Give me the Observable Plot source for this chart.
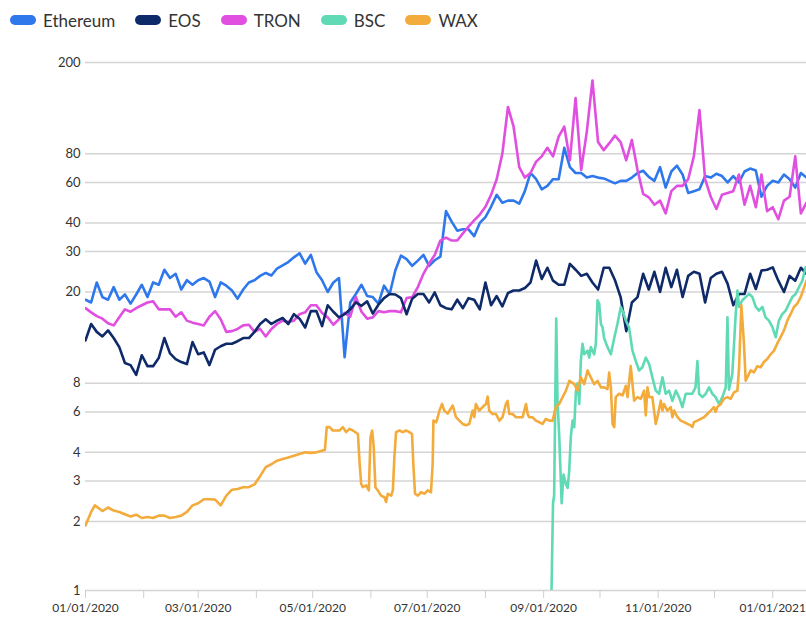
<!DOCTYPE html>
<html><head><meta charset="utf-8">
<script src="https://cdn.jsdelivr.net/npm/d3@7"></script>
<script src="https://cdn.jsdelivr.net/npm/@observablehq/plot@0.6"></script>
<style>
body{margin:0;background:#fff;font-family:Lato,"Open Sans",sans-serif;}
#legend{display:flex;align-items:center;height:40px;padding-left:10px;font-size:17px;color:#333;}
.item{display:flex;align-items:center;margin-right:20px;}
.sw{width:26px;height:10px;border-radius:5px;margin-right:7px;}
</style></head><body>
<div id="legend"></div>
<div id="chart"></div>
<script>
const seriesNames = ["Ethereum", "EOS", "TRON", "BSC", "WAX"];
const seriesColors = ["#2f78ec", "#0f2a68", "#e04fe0", "#5fdab5", "#f3ab3c"];
const yTicks = [1, 2, 3, 4, 6, 8, 20, 30, 40, 60, 80, 200];
const startDate = "2020-01-01";
const endDate = "2021-01-19";
const stepDays = 3; // Ethereum, EOS, TRON sampled every 3 days from startDate

const ethereum = [18.5,18,22,19,18.5,21,18.5,19.5,17.8,19.5,21.5,19,22,21.5,25,23,24,20.5,22.5,21.5,22.5,23,22.2,19,22,21.3,20.3,18.7,20.5,22,22.5,23.5,24.2,23.6,25.3,26.1,27,28.3,29.5,26.6,29,24.4,22.5,20,22,23,10.4,18,19.6,21.5,19.2,19,17.8,21.3,19.6,24.8,28.8,27.8,26,27.4,29,26,27.5,28.5,45,40.5,37,37.5,37.5,35,40,42.4,47,53,49,50,50,48.5,55,66,62,56,58,62,62,85,70,66,66,63,64,63,62.5,61,59.5,61,61,63,66,67.5,63.5,61,70,57,67,71,65,54,55,56,64,63,65.5,64,60,64,60,67,69,67.6,52,58,61,60,65,62,57,66,63];

const eos = [12.3,14.5,13.4,12.8,13.6,12.6,11.5,9.8,9.6,8.7,10.6,9.5,9.5,10.3,12.6,10.8,10.2,9.9,9.7,12.1,10.7,10.9,9.6,11.2,11.6,11.9,11.9,12.2,12.6,12.6,13.4,14.5,15.2,14.5,15,15.4,14.5,16,15.3,14,16.5,16.5,14.2,17.5,16.4,15.5,16,16.8,18,17.4,18.2,16.1,17.6,18.8,19.6,19.5,18.8,16,18.7,19.6,19.6,18,19.9,17.5,17,16.8,18.5,17,18.8,18.5,16.8,22,17.5,19.2,17.3,19.8,20.3,20.3,20.8,22,27.4,22.8,25.5,22.4,21.5,21.5,26.5,25,23.5,24,22,20.5,25.5,25.5,22.5,19,13.5,18,19,24,20.5,24.5,20,25.5,21,25,19,23.5,24.5,24,18,23,24,24.5,21.7,17.5,19.6,19.6,24,20.6,24.8,25,25.6,22.4,20,23.5,22.4,25.5,24];

const tron = [17,16.3,15.7,15.3,14.6,14.3,15.5,16.8,16.4,17,17.5,18,18.2,16.8,16.8,16.8,15.6,16.3,15,14.7,14.5,14.3,15.6,16.5,15.2,13.4,13.5,13.8,14.3,14.4,13.4,13.8,12.8,13.8,14.5,15,14.8,15,16,16.3,17.5,17.5,16.2,15.5,14.4,15.2,16.2,15.6,19,16.4,15.3,15.5,16.5,16.3,16.5,16.5,16.3,18.8,19,21,24,26.6,29,33.5,34.5,33.5,33.5,36,38.5,41,43.5,47,53,62,80,128,105,70,63,66,74,78,85,78,95,105,75,140,68,100,167,90,83,89,96,90,75,92,68,53.5,51.7,48,50,44,55,58,58,62,78,124,62,52,46,53,54,55,65,48,58,46.8,65,45,46.8,41.5,50,52,78,44,49];

// [day offset from startDate, value]
const bsc = [[248.2,1.0],[249,2.4],[249.6,2.6],[250.7,15.3],[251.4,6.7],[252.3,4.7],[253.6,2.4],[254.6,3.2],[255.9,2.9],[256.8,2.8],[257.6,3.3],[258.5,4.7],[259.4,5.5],[260.3,5.15],[261.2,7.4],[262.1,8],[263,6.5],[263.8,10],[264.7,11.9],[265.6,10.7],[267.4,11.1],[268.3,10.35],[269.1,11.5],[270.9,10.7],[271.8,11.9],[272.7,18.4],[273.6,17.8],[274.5,14.5],[275.4,14],[276.2,12.6],[278,11.5],[279.8,10.7],[281.6,12.6],[283.3,14.5],[285.1,17.2],[286,16.6],[287.8,15],[289.5,14],[291.3,11.1],[293.1,10],[294.8,9.1],[296.6,9.4],[298.4,10.35],[300.2,9.7],[301.9,8.5],[303.7,7.43],[305.5,7.2],[307.3,8.5],[309,7.2],[310.8,7.43],[312.6,6.7],[314.4,7.43],[316.1,6.96],[317.9,6.3],[319.7,7.2],[321.4,7.2],[323.2,7.2],[324.9,7.68],[325.9,10],[326.8,7.2],[328.6,6.96],[330.3,7.2],[332.1,7.68],[333.9,7.2],[335.6,6.96],[337.4,6.5],[339.2,6.96],[341,7.68],[341.9,15.5],[342.7,7.5],[344.5,8.8],[346.3,16],[347.2,20.3],[348.1,17.2],[349.8,18.4],[351.6,19],[353.4,19.6],[355.2,19],[357,17.2],[358.7,16.6],[360.5,17.2],[362.2,15.5],[364,15],[365.8,14.1],[367.6,12.7],[369.3,15],[371.1,16],[372.9,16.6],[374.7,17.8],[376.4,19],[378.2,19.6],[380,21],[381.8,22.4],[383.5,25.6]];

const wax = [[0,1.92],[3,2.2],[5,2.35],[9,2.22],[12,2.3],[15,2.23],[18,2.2],[21,2.15],[24,2.1],[27,2.14],[30,2.07],[33,2.09],[36,2.07],[39,2.12],[42,2.12],[45,2.07],[48,2.09],[51,2.12],[54,2.2],[57,2.35],[60,2.4],[63,2.5],[66,2.5],[69,2.49],[72,2.35],[75,2.59],[78,2.75],[81,2.77],[84,2.82],[87,2.82],[90,2.9],[93,3.15],[96,3.45],[99,3.55],[102,3.68],[105,3.74],[108,3.8],[111,3.87],[114,3.93],[117,4.0],[120,3.98],[123,4.0],[126,4.07],[127.5,4.1],[128.5,5.15],[130,5.15],[131.7,4.98],[135.3,4.98],[137.1,5.15],[138.8,4.9],[140.6,5.06],[142.4,4.98],[145.1,4.81],[145.9,3.68],[146.8,2.92],[147.7,2.82],[149.5,2.87],[150.9,2.73],[151.8,4.66],[152.7,4.98],[153.5,4.21],[154.4,2.82],[155.7,2.73],[157.4,2.59],[159.2,2.55],[160.1,2.43],[161,2.64],[162.8,2.59],[163.7,2.73],[164.5,3.8],[165.4,4.9],[167.2,4.98],[169,4.9],[170.7,4.98],[172.5,4.9],[173.9,4.81],[174.6,3.56],[175.5,2.64],[177,2.59],[178.7,2.68],[180.5,2.64],[182.3,2.73],[184,2.68],[184.9,3.56],[185.3,5.5],[186.7,5.41],[187.6,5.69],[188.5,6.08],[189.9,6.5],[191.1,6.08],[192.9,5.9],[195.6,6.4],[197.3,5.7],[199.1,5.5],[200.9,5.32],[202.6,5.25],[204.4,5.32],[206.2,6.08],[207.1,5.7],[207.9,6.5],[209.7,6.08],[211.5,6.3],[213.3,6.5],[214.2,7.0],[215,6.08],[216.8,5.88],[218.6,5.88],[220.4,5.5],[222.1,5.69],[223.9,6.5],[224.8,6.7],[225.7,5.88],[227.5,5.88],[229.3,5.69],[231,5.69],[232.8,5.69],[234.6,6.5],[235.5,5.88],[236.3,5.69],[238.1,5.69],[239.9,5.5],[241.7,5.41],[243.4,5.32],[245.2,5.6],[247,5.5],[248.8,5.5],[250.5,6.3],[252.3,6.5],[254.1,6.96],[255.9,7.43],[257.7,8.2],[260.3,7.93],[262.1,7.43],[263.8,8.5],[265.6,7.93],[267.4,9.1],[269.1,8.5],[270.9,7.93],[272.7,8.2],[274.5,7.68],[276.2,7.68],[278,7.55],[278.9,8.9],[279.8,7.68],[280.7,5.32],[281.6,5.15],[282.4,6.96],[284.2,7.2],[286,7.08],[287.8,7.8],[288.7,6.96],[290.4,9.5],[291.3,7.93],[292.2,6.72],[294,6.96],[295.7,6.84],[297.5,7.43],[298.4,5.8],[299.3,7.68],[300.2,6.96],[301.9,6.96],[303.7,5.32],[304.6,5.69],[306.4,6.72],[307.3,6.08],[308.1,6.5],[309.9,6.08],[311.7,6.3],[312.6,5.69],[313.5,6.08],[315.3,5.69],[317,5.5],[318.8,5.42],[320.6,5.32],[322.3,5.24],[323.2,5.15],[324.1,5.42],[325.9,5.5],[327.7,5.6],[329.4,5.69],[331.2,5.88],[333,6.08],[334.7,6.3],[335.6,6.0],[336.5,6.3],[338.3,6.5],[340,6.84],[341.9,6.96],[343.6,6.84],[345.4,7.3],[347.2,7.43],[348.1,9.4],[349.3,17.5],[350.7,11.9],[351.6,8.2],[352.5,8.5],[354.3,9.1],[356,8.93],[357.8,9.5],[359.6,9.4],[361.3,9.9],[363.1,10.2],[364.9,10.7],[366.7,11.1],[368.4,11.9],[370.2,12.7],[372,13.6],[373.8,15],[375.5,16],[377.3,17.2],[379.1,17.8],[380.9,19],[384,22.4]];

const t0 = new Date(startDate + "T00:00:00Z").getTime();
const dayToDate = d => new Date(t0 + d * 864e5);

const rows = [];
[[ "Ethereum", ethereum ], [ "EOS", eos ], [ "TRON", tron ]].forEach(([name, vals]) => {
  vals.forEach((v, i) => rows.push({series: name, date: dayToDate(i * stepDays), value: v}));
});
bsc.forEach(([d, v]) => rows.push({series: "BSC", date: dayToDate(d), value: v}));
wax.forEach(([d, v]) => rows.push({series: "WAX", date: dayToDate(d), value: v}));

// legend
const legend = document.getElementById("legend");
seriesNames.forEach((n, i) => {
  const it = document.createElement("div");
  it.className = "item";
  it.innerHTML = `<span class="sw" style="background:${seriesColors[i]}"></span><span>${n}</span>`;
  legend.appendChild(it);
});

const monthTicks = d3.utcMonth.range(new Date(startDate + "T00:00:00Z"), new Date("2021-01-02T00:00:00Z"));
const fmt = d3.utcFormat("%m/%d/%Y");
const drawOrder = ["Ethereum", "TRON", "EOS", "BSC", "WAX"];

const chart = Plot.plot({
  width: 806,
  height: 577,
  marginLeft: 85,
  marginRight: 0,
  marginTop: 22,
  marginBottom: 27,
  style: {fontFamily: "Lato, 'Open Sans', sans-serif", background: "#fff", color: "#333", overflow: "visible"},
  x: {type: "utc", domain: [new Date(startDate + "T00:00:00Z"), new Date(endDate + "T00:00:00Z")], label: null},
  y: {type: "log", domain: [1, 200], label: null, axis: null},
  color: {domain: seriesNames, range: seriesColors},
  marks: [
    Plot.ruleY(yTicks, {y: d => d, stroke: "#d4d4d4", strokeWidth: 1.5}),
    Plot.text(yTicks, {y: d => d, text: d => String(d), frameAnchor: "left", textAnchor: "end", dx: -5, fontSize: 13, fill: "#333"}),
    Plot.axisX(monthTicks, {tickSize: 8, tickPadding: 5, fontSize: 12, stroke: "#cfcfcf", fill: "#333", label: null,
      tickFormat: d => (d.getUTCMonth() % 2 === 0 ? fmt(d) : "")}),
    ...drawOrder.map(n => Plot.lineY(rows.filter(r => r.series === n), {
      x: "date", y: "value", stroke: "series", strokeWidth: 2.6, clip: true
    }))
  ]
});
document.getElementById("chart").appendChild(chart);
</script>
</body></html>
